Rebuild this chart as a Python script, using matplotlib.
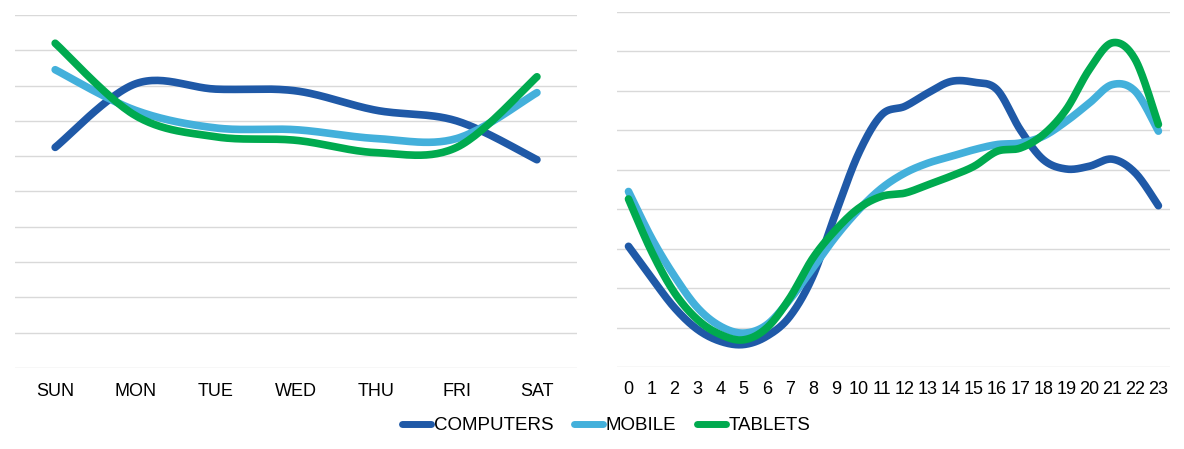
import numpy as np
import matplotlib
matplotlib.use("Agg")
import matplotlib.pyplot as plt
from matplotlib.lines import Line2D

# share of weekly traffic by day (%)
days = ["SUN", "MON", "TUE", "WED", "THU", "FRI", "SAT"]
day_computers = [12.5, 16.1, 15.8, 15.7, 14.6, 14.0, 11.8]
day_mobile = [16.9, 14.6, 13.6, 13.5, 13.0, 13.0, 15.6]
day_tablets = [18.4, 14.3, 13.1, 12.9, 12.2, 12.5, 16.5]

# share of daily traffic by hour (%)
hours = [str(h) for h in range(24)]
hour_computers = [3.06, 2.26, 1.50, 0.95, 0.65, 0.57, 0.78, 1.28, 2.30, 3.91, 5.43, 6.40,
                  6.61, 6.95, 7.24, 7.22, 7.03, 6.02, 5.26, 5.02, 5.09, 5.27, 4.92, 4.09]
hour_mobile = [4.45, 3.27, 2.30, 1.50, 1.03, 0.86, 1.07, 1.71, 2.51, 3.31, 3.99, 4.54,
               4.92, 5.17, 5.34, 5.51, 5.64, 5.68, 5.85, 6.23, 6.69, 7.16, 6.99, 5.98]
hour_tablets = [4.26, 2.93, 1.88, 1.20, 0.82, 0.69, 0.99, 1.75, 2.76, 3.48, 4.03, 4.33,
                4.41, 4.62, 4.84, 5.09, 5.47, 5.55, 5.89, 6.53, 7.54, 8.22, 7.79, 6.15]

series_names = ["COMPUTERS", "MOBILE", "TABLETS"]
colors = ["#1F59A7", "#43B0DB", "#00AA4F"]
LW = 5.5


def smooth(y, n=30):
    """Excel-style smoothed line (cubic Bezier with Catmull-Rom tangents)."""
    y = np.asarray(y, dtype=float)
    x = np.arange(len(y), dtype=float)
    pts = np.column_stack([x, y])
    padded = np.vstack([pts[0], pts, pts[-1]])
    out = []
    t = np.linspace(0, 1, n)[:, None]
    for i in range(len(pts) - 1):
        p0, p3 = pts[i], pts[i + 1]
        p1 = p0 + (padded[i + 2] - padded[i]) / 6
        p2 = p3 - (padded[i + 3] - padded[i + 1]) / 6
        seg = ((1 - t) ** 3) * p0 + 3 * ((1 - t) ** 2) * t * p1 + 3 * (1 - t) * t ** 2 * p2 + t ** 3 * p3
        out.append(seg if i == 0 else seg[1:])
    out = np.vstack(out)
    return out[:, 0], out[:, 1]


plt.rcParams["font.family"] = ["Liberation Sans", "DejaVu Sans"]

fig = plt.figure(figsize=(11.84, 4.49), dpi=100)
ax1 = fig.add_axes([0.0127, 0.1804, 0.4747, 0.7862])
ax2 = fig.add_axes([0.5211, 0.1826, 0.4670, 0.7906])


def style(ax, labels, ymax, step):
    ax.set_xlim(-0.5, len(labels) - 0.5)
    ax.set_ylim(0, ymax)
    ax.set_yticks(np.arange(0, ymax + step / 2, step))
    ax.set_yticklabels([])
    ax.set_xticks(range(len(labels)))
    ax.set_xticklabels(labels, fontsize=13)
    ax.tick_params(length=0, pad=11)
    ax.grid(axis="y", color="#D9D9D9", linewidth=1)
    ax.set_axisbelow(True)
    for s in ax.spines.values():
        s.set_visible(False)


for vals, c in zip([day_computers, day_mobile, day_tablets], colors):
    xs, ys = smooth(vals)
    ax1.plot(xs, ys, color=c, linewidth=LW, solid_capstyle="round", solid_joinstyle="round")
style(ax1, days, 20, 2)

for vals, c in zip([hour_computers, hour_mobile, hour_tablets], colors):
    xs, ys = smooth(vals)
    ax2.plot(xs, ys, color=c, linewidth=LW, solid_capstyle="round", solid_joinstyle="round")
style(ax2, hours, 9, 1)
ax2.tick_params(pad=10)

handles = [Line2D([], [], color=c, linewidth=5, solid_capstyle="round") for c in colors]
fig.legend(handles, series_names, loc="center", bbox_to_anchor=(0.512, 0.052), ncol=3,
           frameon=False, fontsize=13.5, handlelength=1.55, handletextpad=0.15, columnspacing=1.1)

fig.savefig("out.png", dpi=100)
